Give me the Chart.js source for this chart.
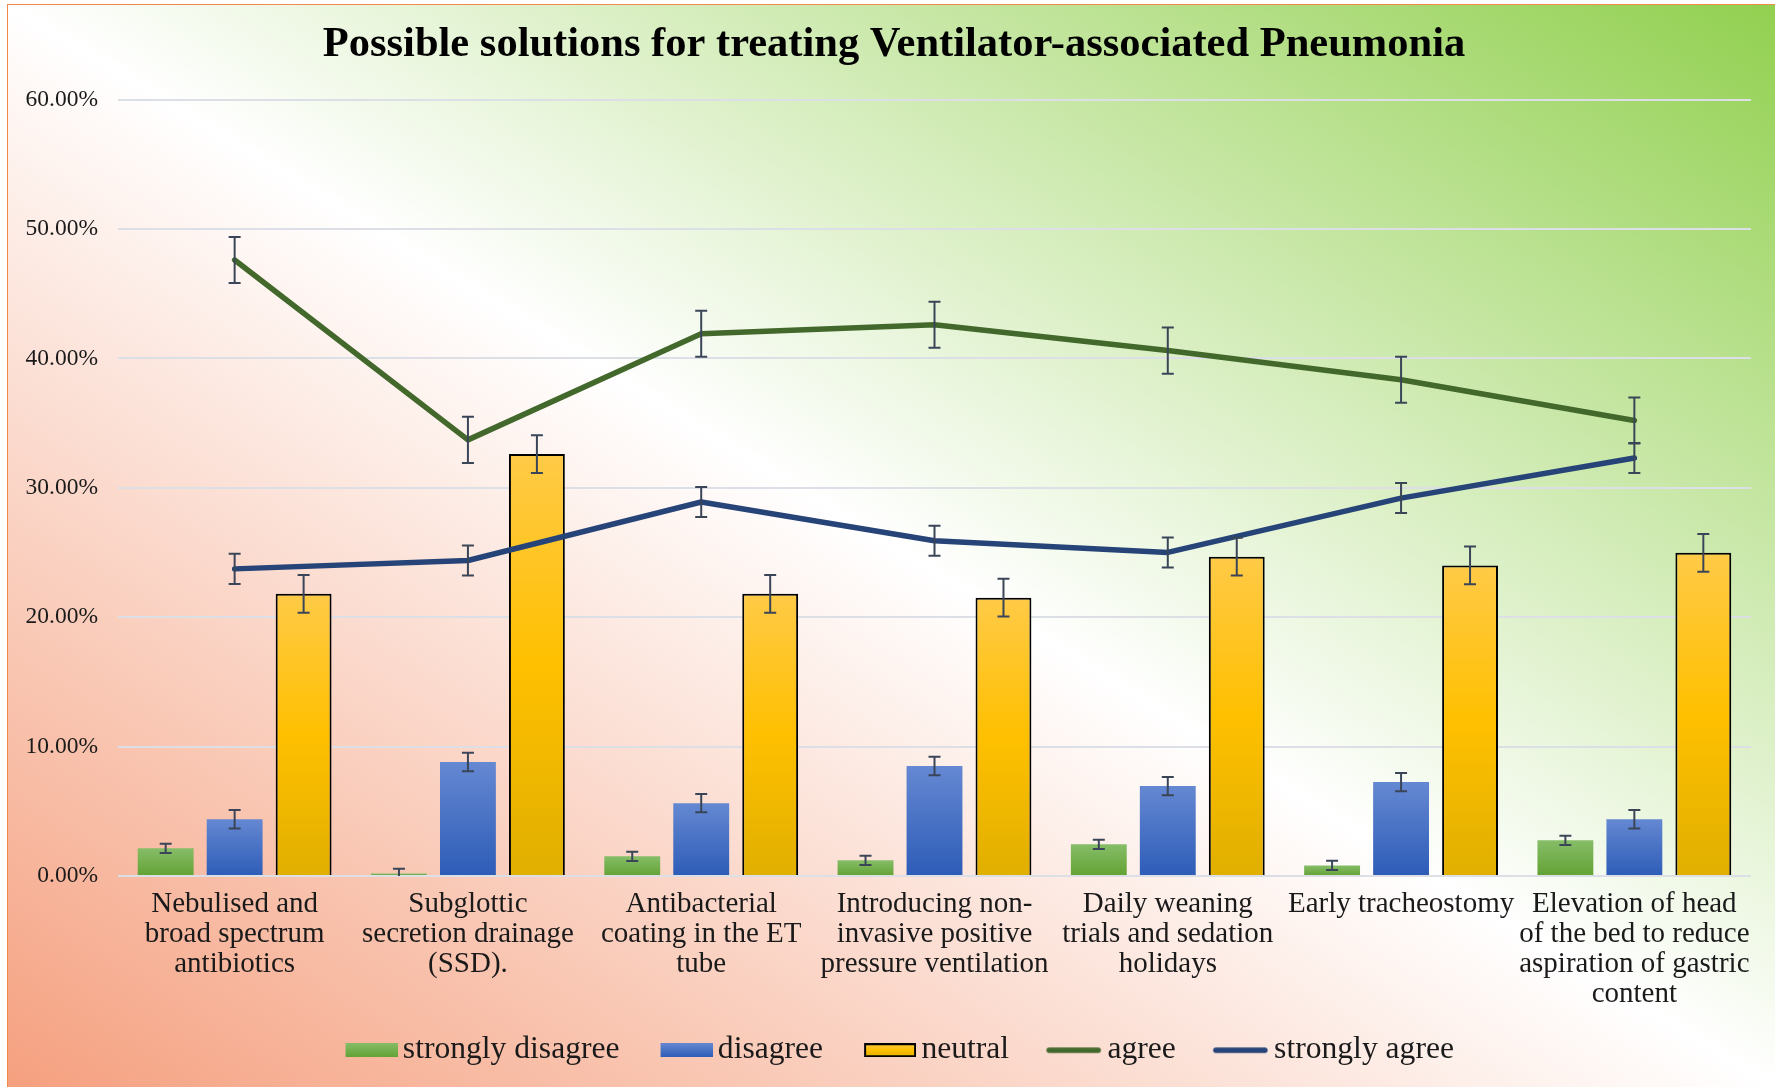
<!DOCTYPE html>
<html>
<head>
<meta charset="utf-8">
<title>Possible solutions for treating Ventilator-associated Pneumonia</title>
<script src="https://cdn.jsdelivr.net/npm/chart.js@4.4.1/dist/chart.umd.min.js"></script>
<style>
  html, body { margin: 0; padding: 0; background: #fff; }
  body { width: 1775px; height: 1087px; position: relative; overflow: hidden; }
  #bg {
    position: absolute; left: 7px; top: 4px; right: 0; bottom: 0;
    border-top: 1.5px solid #f08a4b; border-left: 1.5px solid #f08a4b;
    background: linear-gradient(to top right, #f5a07f 0%, #ffffff 50%, #92d050 100%);
  }
  #chart { position: absolute; left: 0; top: 0; }
</style>
</head>
<body>
<div id="bg"></div>
<canvas id="chart" width="1775" height="1087"></canvas>
<script>
// --- data (percent of respondents) ---
const categories = [
    ["Nebulised and", "broad spectrum", "antibiotics"],
    ["Subglottic", "secretion drainage", "(SSD)."],
    ["Antibacterial", "coating in the ET", "tube"],
    ["Introducing non-", "invasive positive", "pressure ventilation"],
    ["Daily weaning", "trials and sedation", "holidays"],
    ["Early tracheostomy"],
    ["Elevation of head", "of the bed to reduce", "aspiration of gastric", "content"]
];
const seriesNames = ["strongly disagree", "disagree", "neutral", "agree", "strongly agree"];
const stronglyDisagree = [2.13, 0.19, 1.51, 1.20, 2.44, 0.81, 2.75];
const disagree = [4.38, 8.80, 5.62, 8.49, 6.94, 7.25, 4.38];
const neutral = [21.80, 32.60, 21.80, 21.50, 24.67, 24.00, 24.97];
const agree = [47.60, 33.70, 41.90, 42.60, 40.60, 38.35, 35.20];
const stronglyAgree = [23.73, 24.38, 28.90, 25.90, 25.00, 29.20, 32.30];
// standard error bars, one amount per series (same order as seriesNames)
const seriesErrors = [0.36, 0.71, 1.46, 1.78, 1.16];
const yMin = 0, yMax = 60, yStep = 10;

const FONT = "'Liberation Serif', 'Times New Roman', serif";
const TEXT = '#1a1a1a';

// vertical gradient for each bar, from its top down to the zero line
function barGradient(stops) {
    return function (ctx) {
        const chart = ctx.chart;
        const y = chart.scales.y;
        if (!chart.chartArea || !y || ctx.type !== 'data') return stops[stops.length - 1][1];
        const top = y.getPixelForValue(ctx.raw);
        const bottom = y.getPixelForValue(0);
        if (!isFinite(top) || Math.abs(bottom - top) < 1) return stops[0][1];
        const g = chart.ctx.createLinearGradient(0, top, 0, bottom);
        stops.forEach(s => g.addColorStop(s[0], s[1]));
        return g;
    };
}

const greenStops = [[0, '#86bd68'], [1, '#63a234']];
const blueStops = [[0, '#6588d2'], [1, '#2d5cb7']];
const yellowStops = [[0, '#ffca47'], [0.5, '#ffc000'], [1, '#e0af00']];

// legend symbols: 81px wide canvases, the visible part sits at the right
// so it ends up close to its text (Chart.js centres the image in the box)
const SYM_W = 81;
function boxSymbol(stops, border) {
    const c = document.createElement('canvas');
    c.width = SYM_W; c.height = 14;
    const x = c.getContext('2d');
    const left = SYM_W - 52;
    const g = x.createLinearGradient(0, 0, 0, 14);
    stops.forEach(s => g.addColorStop(s[0], s[1]));
    x.fillStyle = g;
    x.fillRect(left, 0, 52, 14);
    if (border) {
        x.strokeStyle = '#000';
        x.lineWidth = 2;
        x.strokeRect(left + 1, 1, 50, 12);
    }
    return c;
}
function lineSymbol(color) {
    const c = document.createElement('canvas');
    c.width = SYM_W; c.height = 8;
    const x = c.getContext('2d');
    x.strokeStyle = color;
    x.lineWidth = 5.5;
    x.lineCap = 'round';
    x.beginPath();
    x.moveTo(SYM_W - 53, 4);
    x.lineTo(SYM_W - 4, 4);
    x.stroke();
    return c;
}
const legendSymbols = [
    boxSymbol(greenStops, false),
    boxSymbol(blueStops, false),
    boxSymbol(yellowStops, true),
    lineSymbol('#43682b'),
    lineSymbol('#264478')
];

// error bars on every bar and line point
const errorBarPlugin = {
    id: 'errorBars',
    afterDatasetsDraw(chart) {
        const { ctx, chartArea, scales } = chart;
        ctx.save();
        ctx.beginPath();
        ctx.rect(chartArea.left, chartArea.top, chartArea.right - chartArea.left, chartArea.bottom - chartArea.top);
        ctx.clip();
        ctx.strokeStyle = '#3a4558';
        ctx.lineWidth = 2;
        chart.data.datasets.forEach((ds, i) => {
            const meta = chart.getDatasetMeta(i);
            const err = seriesErrors[i];
            meta.data.forEach((el, j) => {
                const v = ds.data[j];
                const x = el.x;
                const yHi = scales.y.getPixelForValue(v + err);
                const yLo = scales.y.getPixelForValue(v - err);
                ctx.beginPath();
                ctx.moveTo(x, yHi); ctx.lineTo(x, yLo);
                ctx.moveTo(x - 6, yHi); ctx.lineTo(x + 6, yHi);
                ctx.moveTo(x - 6, yLo); ctx.lineTo(x + 6, yLo);
                ctx.stroke();
            });
        });
        ctx.restore();
    }
};

// title and legend sit a little right of the canvas centre in the original
const nudgePlugin = {
    id: 'nudge',
    afterLayout(chart) {
        if (chart.titleBlock) { chart.titleBlock.left += 8.5; chart.titleBlock.right += 8.5; }
        if (chart.legend) { chart.legend.left += 5; chart.legend.right += 5; }
    }
};

const barCommon = { type: 'bar', order: 1, barPercentage: 0.81, categoryPercentage: 0.887, borderWidth: 0 };
const lineCommon = {
    type: 'line', order: 0, borderWidth: 5.5, pointRadius: 0, pointHoverRadius: 0,
    tension: 0, fill: false, borderCapStyle: 'round', borderJoinStyle: 'round'
};

new Chart(document.getElementById('chart'), {
    data: {
        labels: categories,
        datasets: [
            Object.assign({}, barCommon, { label: seriesNames[0], data: stronglyDisagree, backgroundColor: barGradient(greenStops) }),
            Object.assign({}, barCommon, { label: seriesNames[1], data: disagree, backgroundColor: barGradient(blueStops) }),
            Object.assign({}, barCommon, { label: seriesNames[2], data: neutral, backgroundColor: barGradient(yellowStops),
                borderColor: '#000000', borderWidth: 2 }),
            Object.assign({}, lineCommon, { label: seriesNames[3], data: agree, borderColor: '#43682b', backgroundColor: '#43682b' }),
            Object.assign({}, lineCommon, { label: seriesNames[4], data: stronglyAgree, borderColor: '#264478', backgroundColor: '#264478' })
        ]
    },
    options: {
        responsive: false,
        devicePixelRatio: 1,
        animation: false,
        layout: { padding: { left: 20, right: 24, top: 19.8, bottom: 11 } },
        scales: {
            x: {
                grid: { display: false, drawTicks: false },
                border: { display: false },
                ticks: {
                    color: TEXT, padding: 14, maxRotation: 0, autoSkip: false,
                    font: { family: FONT, size: 29, lineHeight: 1.03 }
                },
                afterFit(scale) { scale.height = 136; }
            },
            y: {
                min: yMin, max: yMax,
                grid: { color: '#dcdfe6', lineWidth: 2, drawTicks: false },
                border: { display: false },
                ticks: {
                    stepSize: yStep, color: TEXT, padding: 20,
                    font: { family: FONT, size: 23.5 },
                    callback: v => v.toFixed(2) + '%'
                },
                afterFit(scale) { scale.width = 98; }
            }
        },
        plugins: {
            title: {
                display: true,
                text: 'Possible solutions for treating Ventilator-associated Pneumonia',
                color: '#000',
                font: { family: FONT, size: 42.5, weight: 'bold', lineHeight: 1.2 },
                padding: { top: 0, bottom: 28.8 }
            },
            legend: {
                position: 'bottom',
                labels: {
                    usePointStyle: true,
                    pointStyleWidth: 60,
                    boxWidth: 60,
                    boxHeight: 14,
                    padding: 22.5,
                    color: TEXT,
                    font: { family: FONT, size: 31.6 },
                    generateLabels(chart) {
                        return chart.data.datasets.map((ds, i) => ({
                            text: ds.label,
                            datasetIndex: i,
                            pointStyle: legendSymbols[i],
                            fontColor: TEXT,
                            lineWidth: 0,
                            hidden: false
                        }));
                    }
                }
            },
            tooltip: { enabled: false }
        }
    },
    plugins: [errorBarPlugin, nudgePlugin]
});
</script>
</body>
</html>
